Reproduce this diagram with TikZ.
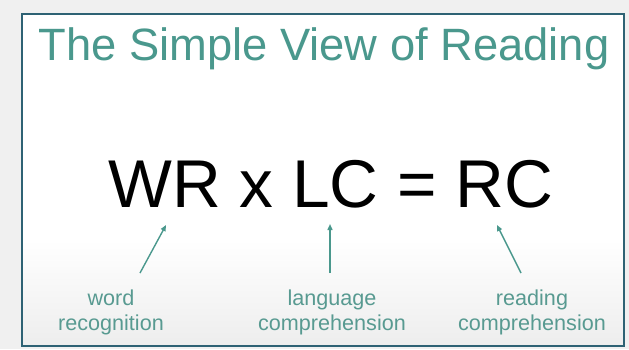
\documentclass[tikz,border=0pt]{standalone}
\usepackage{fontspec}
\setmainfont{Liberation Sans}
\usepackage{tikz}
\usetikzlibrary{positioning,calc,arrows.meta}
\definecolor{slideframe}{RGB}{46,98,116}
\definecolor{slidebg}{RGB}{240,240,240}
\definecolor{teal1}{RGB}{74,152,141}
\definecolor{teal2}{RGB}{88,154,145}
\tikzset{slidetitle/.style={anchor=base, text=teal1, inner sep=0pt, font=\fontsize{45.3}{54}\selectfont}}
\tikzset{formula/.style={anchor=base, text=black, inner sep=0pt, font=\fontsize{67.6}{80}\selectfont}}
\tikzset{term/.style={anchor=base, text=teal2, inner sep=0pt, align=center, font=\fontsize{21.6}{25}\selectfont}}
\tikzset{arr/.style={draw=teal1, line width=1.4pt, -{Triangle[length=6pt,width=5pt]}}}

\begin{document}
\begin{tikzpicture}[x=1pt,y=-1pt]
			\useasboundingbox (0,0) rectangle (629,349);
			% slide background and frame
			\fill[slidebg] (0,0) rectangle (629,349);
			\fill[white] (22,14) rectangle (624,346);
			\shade[top color=white, bottom color=black!7] (22,240) rectangle (624,346);
			\draw[slideframe, line width=2.2pt] (22,14) rectangle (624,346);
			%
			\node[slidetitle] (title) at (324,60) {The Simple View of Reading};
			\node[formula] (eq) at (331,207) {WR x LC = RC};
			% base is the second line here
			\node[term] (wr) at (111,330) {word\\recognition};
			\node[term] (lc) at (332,330) {language\\comprehension};
			\node[term] (rc) at (532,330) {reading\\comprehension};
			% arrow ends under the letters
			\coordinate (wrtail) at (140,273);
			\coordinate (wrhead) at (166,225);
			\coordinate (lctail) at (330,273);
			\coordinate (lchead) at (330,224);
			\coordinate (rctail) at (521,273);
			\coordinate (rchead) at (497,225);
			\draw[arr] (wrtail) -- (wrhead);
			\draw[arr] (lctail) -- (lchead);
			\draw[arr] (rctail) -- (rchead);
		\end{tikzpicture}
\end{document}
